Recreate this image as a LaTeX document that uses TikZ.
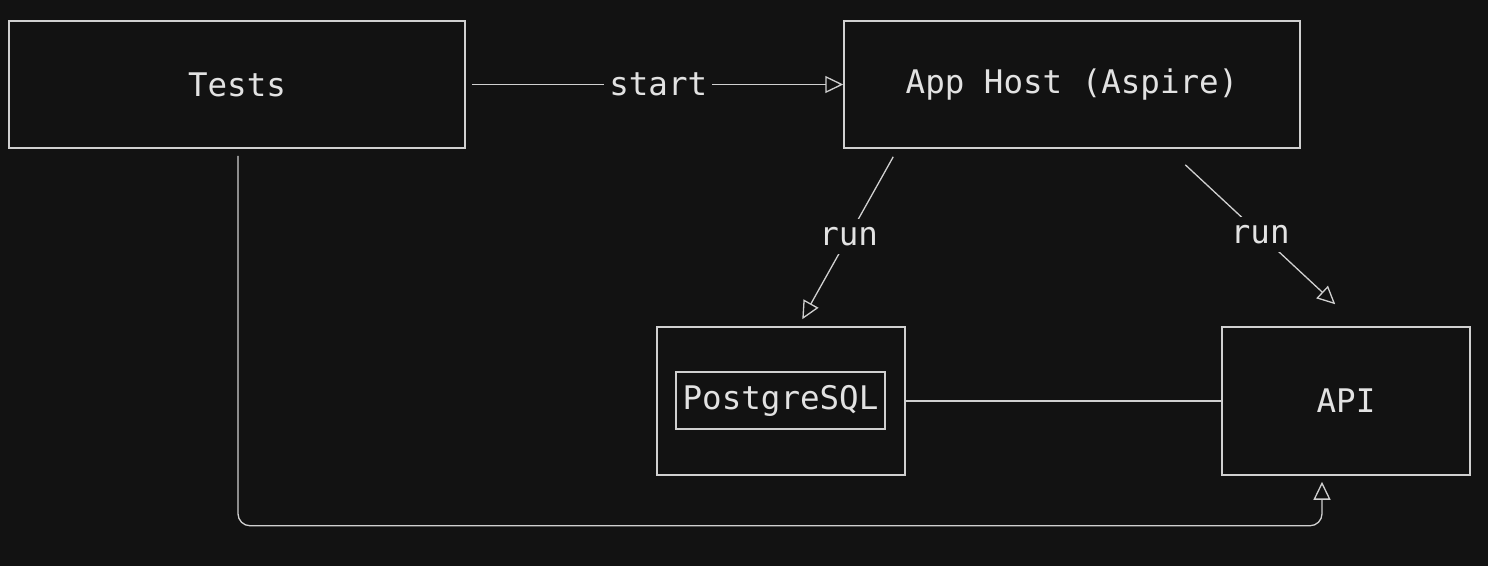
\documentclass[tikz,border=0pt]{standalone}
\usepackage{fontspec}
\newfontfamily\monofnt{DejaVu Sans Mono}
\usetikzlibrary{arrows.meta,calc}
\definecolor{bg}{HTML}{121212}
\definecolor{fg}{HTML}{D0D0D0}
\definecolor{txt}{HTML}{E2E2E2}
\begin{document}
\begin{tikzpicture}[x=1pt,y=-1pt,
  box/.style={draw=fg, line width=1.5pt, fill=bg, minimum width=#1, inner sep=0pt, text=txt,
    font=\monofnt\fontsize{32.5}{38}\selectfont},
  conn/.style={draw=fg, line width=1.3pt},
  arr/.style={conn, -{Triangle[open, length=18pt, width=17pt, line width=1.3pt]}},
  lbl/.style={fill=bg, text=txt, inner sep=8pt, font=\monofnt\fontsize{32.5}{38}\selectfont}]
\fill[bg] (0,0) rectangle (1488,566);
\useasboundingbox (0,0) rectangle (1488,566);
\node[box=456pt, minimum height=127pt] (tests) at (237,84.5) {Tests};
\node[box=456pt, minimum height=127pt] (apphost) at (1072,84.5) {App Host (Aspire)};
\node[box=248pt, minimum height=148pt] (pg) at (781,401) {};
\node[draw=fg, line width=1.5pt, minimum width=209pt, minimum height=57pt, inner sep=0pt, text=txt,
    font=\monofnt\fontsize{32.5}{38}\selectfont] (pgin) at (780.5,400.5) {PostgreSQL};
\node[box=248pt, minimum height=148pt] (api) at (1346,401) {API};

\draw[arr, shorten <=6pt] (tests.east) -- node[lbl, inner sep=5pt, pos=0.51] (l1) {start} (apphost.west);
\draw[arr] ($(apphost.south west)+(50,8)$) -- node[lbl, pos=0.49] (l2) {run} ($(pg.north west)+(146,-7)$);
\draw[arr] ($(apphost.south west)+(342,16)$) -- node[lbl, pos=0.5] (l3) {run} ($(api.north west)+(114,-22)$);
\draw[conn] (pg.east) -- (api.west);
\draw[arr, rounded corners=12pt] ($(tests.south)+(1,7)$) |- ($(api.south)+(-24,50)$) -- ($(api.south)+(-24,6)$);
\end{tikzpicture}
\end{document}
